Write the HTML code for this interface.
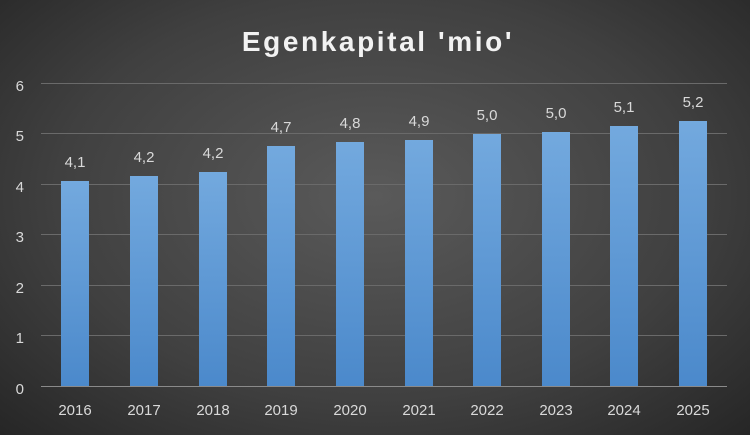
<!DOCTYPE html>
<html><head><style>
body{margin:0}
#c{width:750px;height:435px;position:relative;overflow:hidden;font-family:"Liberation Sans",sans-serif;
background:radial-gradient(ellipse at 50% 45%,#5a5a5a 0%,#404040 60%,#262626 100%);}
</style></head><body><div id="c">
<svg width="750" height="435" xmlns="http://www.w3.org/2000/svg">
<defs><linearGradient id="g" x1="0" y1="0" x2="0" y2="1"><stop offset="0" stop-color="#73a9de"/><stop offset="1" stop-color="#4b89cb"/></linearGradient></defs>
<text x="378" y="51" text-anchor="middle" font-size="28" font-weight="bold" fill="#f2f2f2" letter-spacing="2.6">Egenkapital 'mio'</text>
<g stroke="#6a6a6a" stroke-width="1">
<line x1="41" x2="727" y1="83.5" y2="83.5"/><line x1="41" x2="727" y1="133.5" y2="133.5"/><line x1="41" x2="727" y1="184.5" y2="184.5"/><line x1="41" x2="727" y1="234.5" y2="234.5"/><line x1="41" x2="727" y1="285.5" y2="285.5"/><line x1="41" x2="727" y1="335.5" y2="335.5"/>
</g>
<line x1="41" x2="727" y1="386.5" y2="386.5" stroke="#8a8a8a"/>
<g font-size="15" fill="#d9d9d9" text-anchor="end">
<text x="24" y="91">6</text><text x="24" y="141">5</text><text x="24" y="192">4</text><text x="24" y="242">3</text><text x="24" y="293">2</text><text x="24" y="343">1</text><text x="24" y="394">0</text>
</g>
<g fill="url(#g)">
<rect x="61" y="181" width="28" height="205"/>
<rect x="130" y="176" width="28" height="210"/>
<rect x="199" y="172" width="28" height="214"/>
<rect x="267" y="146" width="28" height="240"/>
<rect x="336" y="142" width="28" height="244"/>
<rect x="405" y="140" width="28" height="246"/>
<rect x="473" y="134" width="28" height="252"/>
<rect x="542" y="132" width="28" height="254"/>
<rect x="610" y="126" width="28" height="260"/>
<rect x="679" y="121" width="28" height="265"/>
</g>
<g font-size="15" fill="#d9d9d9" text-anchor="middle">
<text x="75" y="167">4,1</text><text x="144" y="162">4,2</text><text x="213" y="158">4,2</text><text x="281" y="132">4,7</text><text x="350" y="128">4,8</text><text x="419" y="126">4,9</text><text x="487" y="120">5,0</text><text x="556" y="118">5,0</text><text x="624" y="112">5,1</text><text x="693" y="107">5,2</text>
</g>
<g font-size="15" fill="#d9d9d9" text-anchor="middle">
<text x="75" y="415">2016</text><text x="144" y="415">2017</text><text x="213" y="415">2018</text><text x="281" y="415">2019</text><text x="350" y="415">2020</text><text x="419" y="415">2021</text><text x="487" y="415">2022</text><text x="556" y="415">2023</text><text x="624" y="415">2024</text><text x="693" y="415">2025</text>
</g>
</svg></div></body></html>
